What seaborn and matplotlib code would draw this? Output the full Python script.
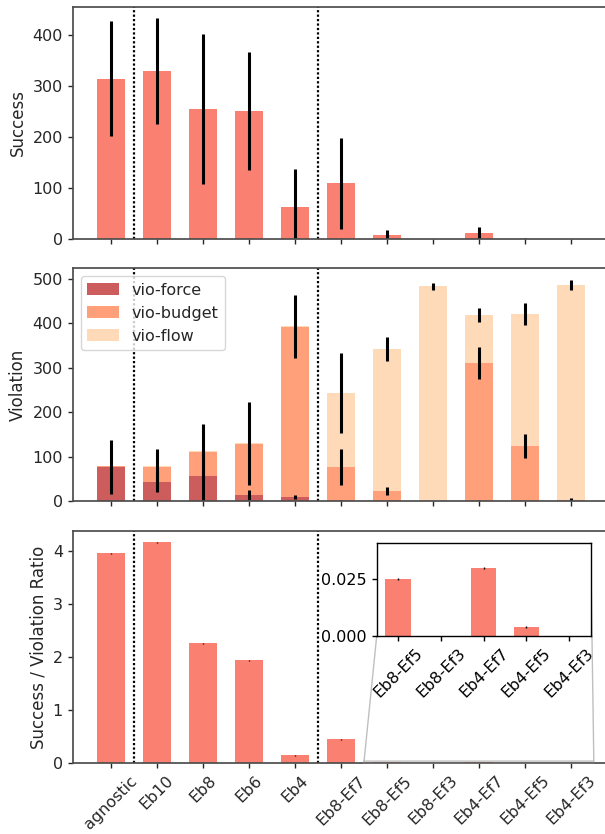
import numpy as np
import matplotlib
matplotlib.use("Agg")
import matplotlib.pyplot as plt
import seaborn as sns

# categories along the x axis
methods = ['agnostic', 'Eb10', 'Eb8', 'Eb6', 'Eb4',
           'Eb8-Ef7', 'Eb8-Ef5', 'Eb8-Ef3', 'Eb4-Ef7', 'Eb4-Ef5', 'Eb4-Ef3']

# success counts (mean, std)
success = [314, 329, 255, 251, 63, 110, 8.4, 0.5, 12.3, 1.0, 0.5]
success_err = [112, 103, 146, 115, 74, 89, 9, 1, 12, 1.5, 1]

# violation components (stacked: force, budget, flow)
vio_force = [78, 44, 57, 15, 10, 1, 0.5, 0, 1, 0.5, 0.3]
vio_force_err = [61, 23, 58, 11, 4.5, 3, 0, 0, 3, 0, 0]
vio_budget = [1.5, 34, 55, 115, 383, 76, 23.5, 0.5, 310, 124, 3.4]
vio_budget_err = [0, 39, 62, 93, 70, 41, 9, 0, 35, 28, 4]
vio_flow = [0.5, 1, 1, 1, 1, 166.6, 318.6, 483, 108, 297, 482.8]
vio_flow_err = [0, 0, 0, 0, 0, 90, 28, 8, 16.5, 24, 10.5]

# success / violation ratio
ratio = [3.95, 4.157, 2.257, 1.937, 0.15, 0.45, 0.025, 0.0, 0.0297, 0.0038, 0.0]
ratio_err = [0.01, 0.01, 0.01, 0.01, 0.01, 0.01, 0.0003, 0, 0.0004, 0.0003, 0]

sns.set_theme(style='ticks')
plt.rcParams['font.family'] = ['DejaVu Sans']
plt.rcParams.update({
    'font.size': 11.5,
    'axes.labelsize': 12,
    'xtick.labelsize': 11.5,
    'ytick.labelsize': 11.5,
    'legend.fontsize': 11.5,
    'axes.linewidth': 1.25,
    'axes.edgecolor': '.3',
    'xtick.major.size': 3.5,
    'ytick.major.size': 3.5,
    'xtick.major.width': 1.0,
    'ytick.major.width': 1.0,
    'xtick.color': '.15',
    'ytick.color': '.15',
})

fig = plt.figure(figsize=(6.05, 8.34), dpi=100)
left, width = 72.7 / 605, (609 - 72.7) / 605
ax1 = fig.add_axes([left, 0.7131, width, 0.2789])
ax2 = fig.add_axes([left, 0.3989, width, 0.2794])
ax3 = fig.add_axes([left, 0.0848, width, 0.2789])

x = np.arange(len(methods))
bar_w = 0.6
bar_kw = dict(width=bar_w, errorbar=None, saturation=1, linewidth=0)
err_kw = dict(fmt='none', ecolor='black')

# --- success
sns.barplot(x=methods, y=success, color='salmon', ax=ax1, **bar_kw)
ax1.errorbar(x, success, yerr=success_err, elinewidth=2.2, **err_kw)
ax1.set_ylabel('Success')

# --- violation (overlapping cumulative bars)
force = np.array(vio_force)
budget_top = force + np.array(vio_budget)
flow_top = budget_top + np.array(vio_flow)
sns.barplot(x=methods, y=flow_top, color='peachpuff', ax=ax2, label='vio-flow', **bar_kw)
sns.barplot(x=methods, y=budget_top, color='lightsalmon', ax=ax2, label='vio-budget', **bar_kw)
sns.barplot(x=methods, y=force, color='indianred', ax=ax2, label='vio-force', **bar_kw)
for top, err in [(force, vio_force_err), (budget_top, vio_budget_err), (flow_top, vio_flow_err)]:
    ax2.errorbar(x, top, yerr=err, elinewidth=2.2, **err_kw)
handles, labels = ax2.get_legend_handles_labels()
ax2.legend(handles[::-1], labels[::-1], loc='upper left')
ax2.set_ylabel('Violation')

# --- ratio
sns.barplot(x=methods, y=ratio, color='salmon', ax=ax3, **bar_kw)
ax3.errorbar(x, ratio, yerr=ratio_err, elinewidth=1, **err_kw)
ax3.set_ylabel('Success / Violation Ratio')

for ax in (ax1, ax2, ax3):
    ax.axvline(0.5, color='black', linestyle=(0, (1, 1)), lw=1.6)
    ax.axvline(4.5, color='black', linestyle=(0, (1, 1)), lw=1.6)
    ax.set_xticks(x)
    ax.set_xlim(-0.83, 10.83)
    sns.despine(ax=ax, top=False, right=False)

ax1.set_ylim(0, 455)
ax2.set_ylim(0, 524)
ax3.set_ylim(0, 4.376)
ax1.tick_params(labelbottom=False)
ax2.tick_params(labelbottom=False)
ax3.set_xticklabels(methods, rotation=45)

# --- inset zoom on the tiny ratios
axins = ax3.inset_axes([5.78, 2.4, 4.65, 1.75], transform=ax3.transData)
sns.barplot(x=methods, y=ratio, color='salmon', ax=axins, **bar_kw)
axins.errorbar(x, ratio, yerr=ratio_err, elinewidth=1, **err_kw)
axins.set_xlim(5.5, 10.5)
axins.set_ylim(0, 0.041)
axins.set_xticks(x[6:])
axins.set_xticklabels(methods[6:], rotation=45)
axins.set_yticks([0.0, 0.025])
axins.set_yticklabels(['0.000', '0.025'])
for sp in axins.spines.values():
    sp.set_color('black')
    sp.set_linewidth(1)
axins.tick_params(colors='black', width=1)
ax3.indicate_inset_zoom(axins)

fig.savefig('out.png', dpi=100)
